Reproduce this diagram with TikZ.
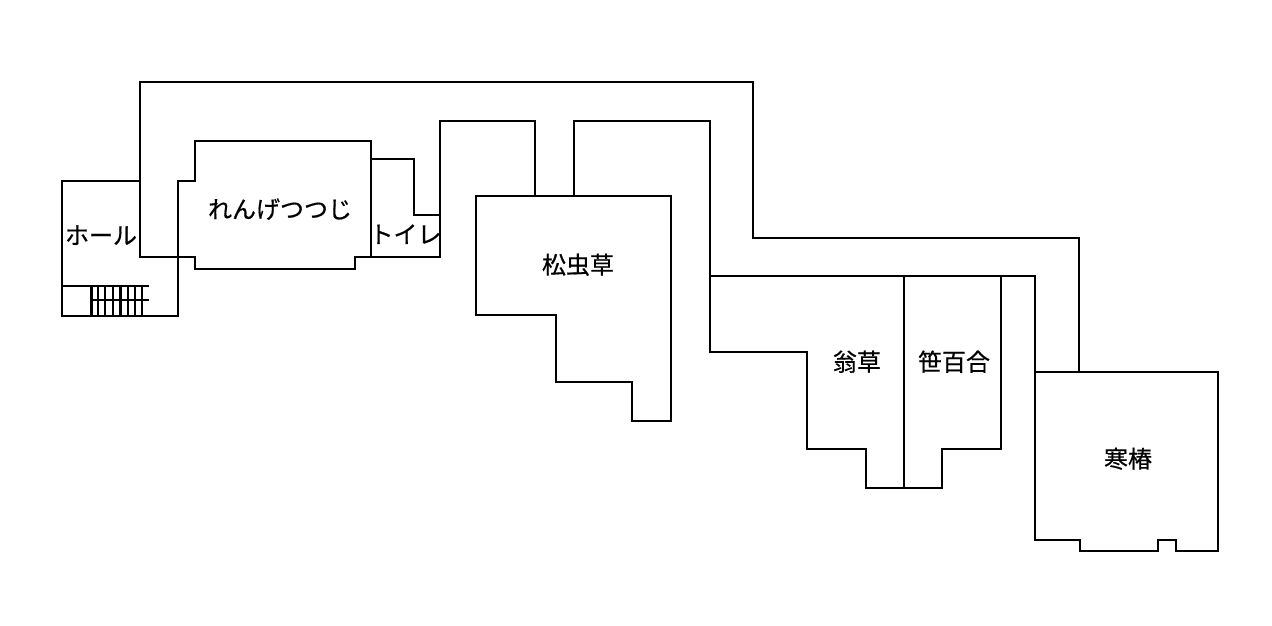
\documentclass[tikz,border=0pt]{standalone}
\usepackage{fontspec}
\newfontfamily\jpfont[FakeBold=0.6]{Noto Sans CJK JP}
\tikzset{
  wall/.style={draw=black,line width=2.2pt,line join=miter,line cap=butt},
  stair/.style={draw=black,line width=2.2pt},
  roomlabel/.style={font=\jpfont\fontsize{24}{24}\selectfont,inner sep=0pt,text=black}
}
\begin{document}
\begin{tikzpicture}[x=1pt,y=-1pt]
\useasboundingbox (0,0) rectangle (1272,626);
% hall and long outer corridor
\draw[wall] (140,181) -- (62,181) -- (62,316) -- (178,316) -- (178,181) -- (195,181) -- (195,141) -- (371,141) -- (371,257) -- (355,257) -- (355,269) -- (195,269) -- (195,257) -- (140,257) -- (140,82) -- (753,82) -- (753,238) -- (1079,238) -- (1079,372);
% stairs
\draw[stair] (62,286) -- (149,286);
\draw[stair] (91,300) -- (149,300);
\foreach \x in {91.5,98,105,113,120.5,128,135,142} \draw[stair] (\x,286) -- (\x,316);
% toilet
\draw[wall] (371,159) -- (414,159) -- (414,215) -- (440,215);
\draw[wall] (371,257) -- (440,257) -- (440,121) -- (535,121) -- (535,196);
\draw[wall] (574,196) -- (574,121) -- (710,121) -- (710,276);
% matsumushiso
\draw[wall] (476,196) -- (671,196) -- (671,421) -- (632,421) -- (632,382) -- (556,382) -- (556,315) -- (476,315) -- cycle;
% okina, sasayuri
\draw[wall] (1035,372) -- (1035,276) -- (710,276) -- (710,352) -- (807,352) -- (807,449) -- (866,449) -- (866,488) -- (942,488) -- (942,449) -- (1001,449) -- (1001,276);
\draw[wall] (904,276) -- (904,488);
% kantsubaki
\draw[wall] (1035,372) -- (1218,372) -- (1218,551) -- (1176,551) -- (1176,540) -- (1158,540) -- (1158,551) -- (1080,551) -- (1080,540) -- (1035,540) -- cycle;
% labels
\node[roomlabel] (hall) at (101,235.2) {ホール};
\node[roomlabel] (renge) at (280,209.2) {れんげつつじ};
\node[roomlabel] (toilet) at (405.5,234.2) {トイレ};
\node[roomlabel] (matsu) at (578,264.7) {松虫草};
\node[roomlabel] (okina) at (857,361.7) {翁草};
\node[roomlabel] (sasa) at (954,361.7) {笹百合};
\node[roomlabel] (kan) at (1128,458.7) {寒椿};
\end{tikzpicture}
\end{document}
